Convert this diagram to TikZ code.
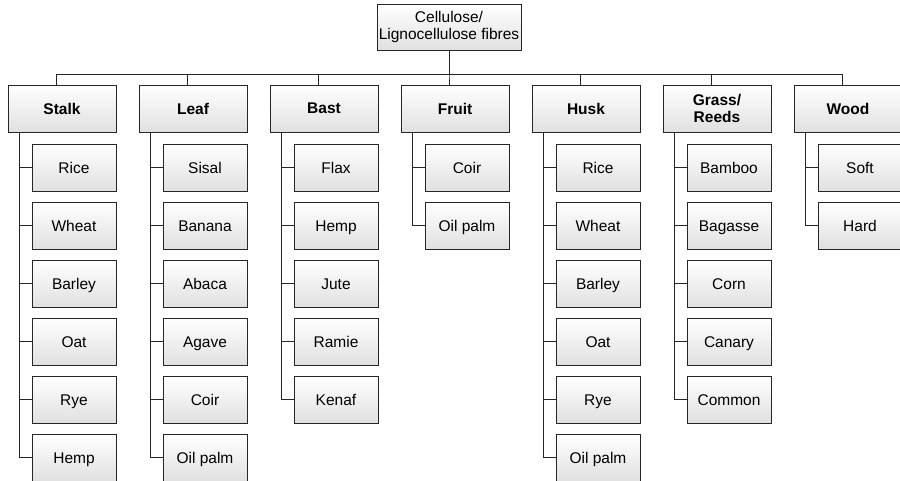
\documentclass[tikz,border=0pt]{standalone}
\usepackage{fontspec}
\setmainfont{Liberation Sans}
\usetikzlibrary{positioning,shadows}

\begin{document}
\begin{tikzpicture}[
	x=1pt, y=-1pt,
	every node/.style={font=\fontsize{15.5}{17}\selectfont},
	box/.style={draw=black!85, line width=0.9pt, top color=white, bottom color=black!12, align=center, inner sep=1pt, minimum height=47pt,
		drop shadow={shadow xshift=1.2pt, shadow yshift=-1.2pt, opacity=0.25}},
	cat/.style={box, minimum width=108pt, font=\fontsize{15.5}{17}\selectfont\bfseries},
	item/.style={box, minimum width=84pt, text height=11.5pt, text depth=0.5pt},
	link/.style={draw=black!85, line width=0.9pt}
	]
	\useasboundingbox (0,0) rectangle (900,480);
	
	\node[box, minimum width=144pt, minimum height=46pt] (root) at (449,27) {Cellulose/\\Lignocellulose fibres};
	
	% fibre groups and their sources
	\foreach \name/\txt/\k/\kids in {
		stalk/Stalk/0/{Rice,Wheat,Barley,Oat,Rye,Hemp},
		leaf/Leaf/1/{Sisal,Banana,Abaca,Agave,Coir,Oil palm},
		bast/Bast/2/{Flax,Hemp,Jute,Ramie,Kenaf},
		fruit/Fruit/3/{Coir,Oil palm},
		husk/Husk/4/{Rice,Wheat,Barley,Oat,Rye,Oil palm},
		grass/{Grass/\\Reeds}/5/{Bamboo,Bagasse,Corn,Canary,Common},
		wood/Wood/6/{Soft,Hard}} {
		\node[cat] (\name) at ({62+131*\k},108.5) {\txt};
		\draw[link] (root.south) -- ++(0,24) -| ([xshift=-6pt]\name.north);
		\foreach \c [count=\j] in \kids {
			\node[item] (\name-\j) at ({74+131*\k},{167.5+58*(\j-1)}) {\c};
			\draw[link] ([xshift=12pt]\name.south west) |- (\name-\j.west);
		}
	}
	
\end{tikzpicture}
\end{document}
